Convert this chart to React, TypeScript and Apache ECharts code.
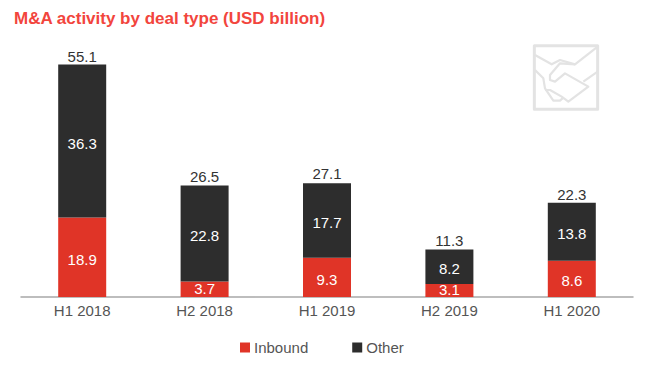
import React, { useEffect, useRef } from "react";
import * as echarts from "echarts";

const categories = ["H1 2018", "H2 2018", "H1 2019", "H2 2019", "H1 2020"];
const inbound = [18.9, 3.7, 9.3, 3.1, 8.6];
const other = [36.3, 22.8, 17.7, 8.2, 13.8];
const totals = [55.1, 26.5, 27.1, 11.3, 22.3];

const FONT = '"Liberation Sans", Arial, sans-serif';
const ICON = "#e3e3e3";
const iconLine = (z: number[][], closed = false, lineWidth = 2.2) => ({
  type: closed ? "polygon" : "polyline",
  shape: { points: z.map(([x, y]) => [500 + x / 3, 30 + y / 3]) },
  style: { fill: "none", stroke: ICON, lineWidth, lineJoin: "round" },
  silent: true,
});
const withLabelNudge = (values: number[]) =>
  values.map((value) => (value < 5 ? { value, label: { offset: [0, -1] } } : { value }));

export default function App() {
  const ref = useRef<HTMLDivElement>(null);
  useEffect(() => {
    const chart = echarts.init(ref.current!, null, { renderer: "svg" });
    const inner = { show: true, position: "inside", offset: [0, 2], color: "#fff", fontSize: 15, fontFamily: FONT };
    chart.setOption({
      animation: false,
      backgroundColor: "#fff",
      textStyle: { fontFamily: FONT },
      title: {
        text: "M&A activity by deal type (USD billion)",
        left: 14,
        top: 10,
        padding: 0,
        textStyle: { color: "#f2453d", fontSize: 17, fontWeight: "bold", fontFamily: FONT },
      },
      legend: {
        left: 240,
        top: 340,
        padding: 0,
        itemWidth: 10,
        itemHeight: 10,
        itemGap: 44,
        data: ["Inbound", "Other"],
        icon: "rect",
        textStyle: { color: "#555", fontSize: 15, fontFamily: FONT, padding: [0, 0, 0, -1] },
      },
      grid: { left: 21, right: 34, top: 44.4, bottom: 69 },
      xAxis: {
        type: "category",
        data: categories,
        axisTick: { show: false },
        axisLine: { lineStyle: { color: "#a8a8a8", width: 1.5 } },
        axisLabel: { color: "#555", fontSize: 15, margin: 6, fontFamily: FONT },
      },
      yAxis: { type: "value", min: 0, max: 60, show: false, splitLine: { show: false } },
      series: [
        { name: "Inbound", type: "bar", stack: "a", data: withLabelNudge(inbound), barWidth: 48, itemStyle: { color: "#e03427" }, label: inner },
        { name: "Other", type: "bar", stack: "a", data: other, barWidth: 48, itemStyle: { color: "#2d2d2d" }, label: inner },
        {
          name: "Total",
          type: "line",
          data: totals,
          symbol: "circle",
          symbolSize: 1,
          showSymbol: true,
          itemStyle: { color: "transparent" },
          lineStyle: { width: 0, color: "transparent" },
          label: { show: true, position: "top", distance: 1, color: "#333", fontSize: 15, fontFamily: FONT },
        },
      ],
      graphic: [
        iconLine([[103, 47], [293, 47], [293, 238], [103, 238]], true, 3),
        iconLine([[105, 75], [155, 103], [180, 90], [225, 103], [293, 50]]),
        iconLine([[225, 103], [180, 100], [150, 135], [150, 150], [165, 155], [195, 130], [265, 170], [205, 215], [185, 200], [150, 180], [135, 180]]),
        iconLine([[293, 125], [250, 155]]),
        iconLine([[105, 120], [130, 145], [135, 175], [160, 212], [180, 212], [190, 203]]),
      ],
    });
    return () => chart.dispose();
  }, []);
  return <div ref={ref} style={{ width: 667, height: 366, position: "fixed", left: 0, top: 0 }} />;
}
